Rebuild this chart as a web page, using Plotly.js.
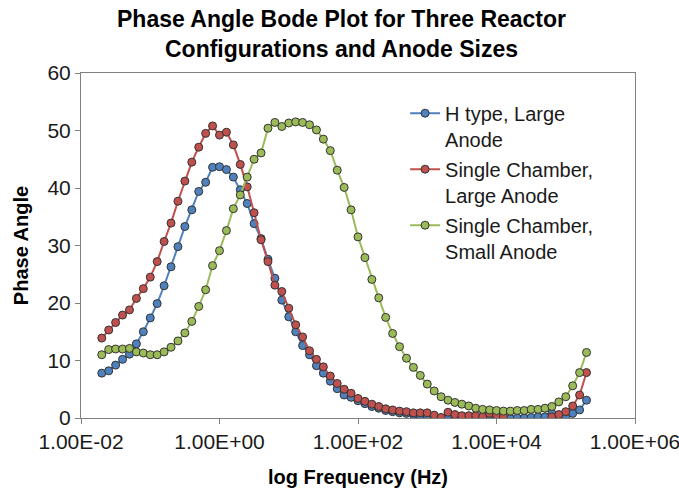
<!DOCTYPE html>
<html>
<head>
<meta charset="utf-8">
<script src="https://cdn.plot.ly/plotly-3.0.1.min.js"></script>
<style>html,body{margin:0;padding:0;background:#fff;}#chart{width:679px;height:491px;}</style>
</head>
<body>
<div id="chart"></div>
<script>
// Frequency (Hz), 10 points per decade
const freq = [
  1.995e-2, 2.512e-2, 3.162e-2, 3.981e-2, 5.012e-2, 6.310e-2, 7.943e-2,
  1.000e-1, 1.259e-1, 1.585e-1, 1.995e-1, 2.512e-1, 3.162e-1, 3.981e-1, 5.012e-1, 6.310e-1, 7.943e-1,
  1.000e0, 1.259e0, 1.585e0, 1.995e0, 2.512e0, 3.162e0, 3.981e0, 5.012e0, 6.310e0, 7.943e0,
  1.000e1, 1.259e1, 1.585e1, 1.995e1, 2.512e1, 3.162e1, 3.981e1, 5.012e1, 6.310e1, 7.943e1,
  1.000e2, 1.259e2, 1.585e2, 1.995e2, 2.512e2, 3.162e2, 3.981e2, 5.012e2, 6.310e2, 7.943e2,
  1.000e3, 1.259e3, 1.585e3, 1.995e3, 2.512e3, 3.162e3, 3.981e3, 5.012e3, 6.310e3, 7.943e3,
  1.000e4, 1.259e4, 1.585e4, 1.995e4, 2.512e4, 3.162e4, 3.981e4, 5.012e4, 6.310e4, 7.943e4,
  1.000e5, 1.259e5, 1.585e5, 1.995e5
];

const hTypeLarge = [
  7.8, 8.2, 9.2, 10.2, 11.1, 12.9, 15.0, 17.4, 19.9, 23.0,
  26.3, 29.8, 33.3, 36.2, 39.4, 41.0, 43.6, 43.7, 43.2, 41.9,
  39.7, 37.3, 33.8, 31.2, 27.6, 24.3, 20.5, 17.6, 15.0, 12.6,
  11.0, 9.1, 7.8, 6.4, 5.1, 4.0, 3.6, 3.0, 2.5, 2.0,
  1.7, 1.3, 1.1, 0.9, 0.8, 0.6, 0.5, 0.4, 0.3, 0.0,
  0.2, 0.2, 0.1, 0.1, 0.1, 0.0, 0.0, -0.2, 0.0, -0.1,
  0.0, 0.0, 0.1, 0.2, 0.2, 0.8, 0.2, 0.1, 0.8, 1.4,
  3.1
];

const singleLarge = [
  13.9, 15.3, 16.6, 17.9, 18.8, 20.8, 22.5, 24.5, 27.2, 30.7,
  33.9, 37.7, 41.2, 44.5, 47.1, 49.5, 50.8, 49.2, 49.7, 47.5,
  44.1, 40.2, 35.7, 31.0, 27.2, 23.1, 22.0, 19.1, 16.2, 14.1,
  11.7, 10.2, 8.9, 7.3, 6.0, 5.0, 4.3, 3.4, 2.9, 2.4,
  2.0, 1.6, 1.4, 1.2, 1.1, 0.9, 0.9, 0.9, 0.5, 0.1,
  1.0, 0.6, 0.4, 0.4, 0.4, 0.2, 0.8, 0.5, 0.3, -0.8,
  -0.8, -0.8, -0.8, -0.8, -0.8, 0.2, 0.6, 1.1, 2.1, 4.0,
  7.9
];

const singleSmall = [
  11.0, 11.9, 12.0, 12.0, 12.1, 11.5, 11.3, 11.0, 11.0, 11.5,
  12.3, 13.4, 14.8, 16.8, 19.4, 22.3, 26.5, 29.1, 32.6, 36.4,
  38.8, 41.9, 45.0, 46.1, 50.4, 51.4, 50.7, 51.3, 51.5, 51.4,
  51.0, 50.1, 48.5, 46.5, 43.1, 40.1, 36.2, 31.5, 27.9, 24.1,
  20.9, 17.5, 14.7, 12.4, 10.4, 8.8, 7.4, 5.9, 4.7, 3.7,
  3.1, 2.7, 2.4, 2.1, 1.7, 1.5, 1.4, 1.3, 1.2, 1.2,
  1.3, 1.3, 1.5, 1.5, 1.7, 2.0, 2.8, 3.7, 5.6, 7.9,
  11.4
];

const seriesNames = [
  "H type, Large<br>Anode",
  "Single Chamber,<br>Large Anode",
  "Single Chamber,<br>Small Anode"
];
const xTickVals = [1e-2, 1e0, 1e2, 1e4, 1e6];
const xTickText = ["1.00E-02", "1.00E+00", "1.00E+02", "1.00E+04", "1.00E+06"];

const colors = ["#4F81BD", "#C0504D", "#9BBB59"];
const ys = [hTypeLarge, singleLarge, singleSmall];

const traces = ys.map((y, k) => ({
  x: freq,
  y: y,
  name: seriesNames[k],
  legendgroup: "g" + k,
  type: "scatter",
  mode: "lines+markers",
  line: {color: colors[k], width: 2},
  marker: {color: colors[k], size: 8, line: {color: "#333333", width: 1}},
  cliponaxis: true
}));

const font = "Liberation Sans, Arial, sans-serif";

const layout = {
  width: 679,
  height: 491,
  margin: {l: 81, r: 44, t: 73, b: 73},
  paper_bgcolor: "#ffffff",
  plot_bgcolor: "#ffffff",
  font: {family: font, color: "#1a1a1a", size: 21},
  title: {
    text: "<b>Phase Angle Bode Plot for Three Reactor<br>Configurations and Anode Sizes</b>",
    font: {family: font, size: 23, color: "#000000"},
    x: 0.503, xanchor: "center",
    xref: "container", yref: "container",
    y: 0.944, yanchor: "middle"
  },
  xaxis: {
    type: "log",
    range: [-2, 6],
    tickmode: "array",
    tickvals: xTickVals,
    ticktext: xTickText,
    ticks: "outside",
    ticklen: 5,
    tickcolor: "#808080",
    ticklabeloverflow: "allow",
    showgrid: false,
    zeroline: false,
    showline: true,
    linecolor: "#808080",
    linewidth: 1,
    mirror: true,
    tickfont: {family: font, size: 21, color: "#1a1a1a"},
    title: {text: "<b>log Frequency (Hz)</b>", font: {family: font, size: 20, color: "#000000"}, standoff: 17}
  },
  yaxis: {
    range: [0, 60],
    dtick: 10,
    ticks: "outside",
    ticklen: 5,
    tickcolor: "#808080",
    showgrid: false,
    zeroline: false,
    showline: true,
    linecolor: "#808080",
    linewidth: 1,
    mirror: true,
    tickfont: {family: font, size: 21, color: "#1a1a1a"},
    title: {text: "<b>Phase Angle</b>", font: {family: font, size: 20, color: "#000000"}, standoff: 13}
  },
  showlegend: true,
  legend: {
    x: 0.585, xanchor: "left",
    y: 0.94, yanchor: "top",
    valign: "top",
    bgcolor: "rgba(255,255,255,0)",
    font: {family: font, size: 20, color: "#1a1a1a"},
    tracegroupgap: 1
  }
};

Plotly.newPlot("chart", traces, layout, {staticPlot: true, displayModeBar: false});
</script>
</body>
</html>
